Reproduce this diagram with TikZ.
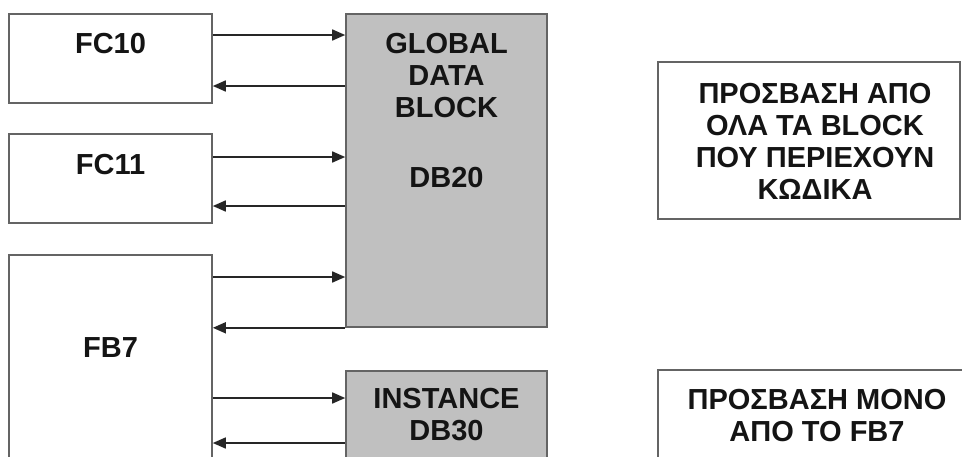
\documentclass[tikz,border=0pt]{standalone}
\usepackage{fontspec}
\setmainfont{Liberation Sans}
\usetikzlibrary{arrows.meta}
\definecolor{boxgray}{RGB}{192,192,192}
\definecolor{edgegray}{RGB}{100,100,100}
\definecolor{txt}{RGB}{20,20,20}
\begin{document}
\begin{tikzpicture}[x=1pt,y=-1pt,
  blk/.style={draw=edgegray,line width=1.6pt,rectangle,inner sep=0pt},
  dbk/.style={blk,fill=boxgray},
  lbl/.style={anchor=north,inner sep=0pt,align=center,text=txt,
    font=\fontsize{29}{32}\selectfont\bfseries},
  conn/.style={draw=black!85,line width=1.6pt,-{Triangle[length=13pt,width=11pt]}}]
\useasboundingbox (0,0) rectangle (962,456);
\clip (0,0) rectangle (962,456);
% boxes
\node[blk,minimum width=203pt,minimum height=89pt] (fc10) at (110.5,58.5) {};
\node[blk,minimum width=203pt,minimum height=89pt] (fc11) at (110.5,178.5) {};
\node[blk,minimum width=203pt,minimum height=215pt] (fb7) at (110.5,362.5) {};
\node[dbk,minimum width=201pt,minimum height=313pt] (gdb) at (446.5,170.5) {};
\node[dbk,minimum width=201pt,minimum height=100pt] (inst) at (446.5,421) {};
\node[blk,minimum width=302pt,minimum height=157pt] (n1) at (809,140.5) {};
\node[blk,minimum width=310pt,minimum height=100pt] (n2) at (813,420) {};
% texts
\node[lbl] (tfc10) at (110.5,33) {FC10};
\node[lbl] (tfc11) at (110.5,154) {FC11};
\node[lbl] (tfb7) at (110.5,337) {FB7};
\node[lbl] (tgdb) at (446.5,33) {GLOBAL\\DATA\\BLOCK};
\node[lbl] (tdb20) at (446.5,167) {DB20};
\node[lbl] (tinst) at (446.5,388) {INSTANCE\\DB30};
\node[lbl] (tn1) at (815,83) {ΠΡΟΣΒΑΣΗ ΑΠΟ\\ΟΛΑ ΤΑ BLOCK\\ΠΟΥ ΠΕΡΙΕΧΟΥΝ\\ΚΩΔΙΚΑ};
\node[lbl] (tn2) at (817,389) {ΠΡΟΣΒΑΣΗ ΜΟΝΟ\\ΑΠΟ ΤΟ FB7};
% connectors
\draw[conn] (fc10.east |- 0,35) -- (gdb.west |- 0,35);
\draw[conn] (gdb.west |- 0,86) -- (fc10.east |- 0,86);
\draw[conn] (fc11.east |- 0,157) -- (gdb.west |- 0,157);
\draw[conn] (gdb.west |- 0,206) -- (fc11.east |- 0,206);
\draw[conn] (fb7.east |- 0,277) -- (gdb.west |- 0,277);
\draw[conn] (gdb.south west) -- (fb7.east |- gdb.south west);
\draw[conn] (fb7.east |- 0,398) -- (inst.west |- 0,398);
\draw[conn] (inst.west |- 0,443) -- (fb7.east |- 0,443);
\end{tikzpicture}
\end{document}
